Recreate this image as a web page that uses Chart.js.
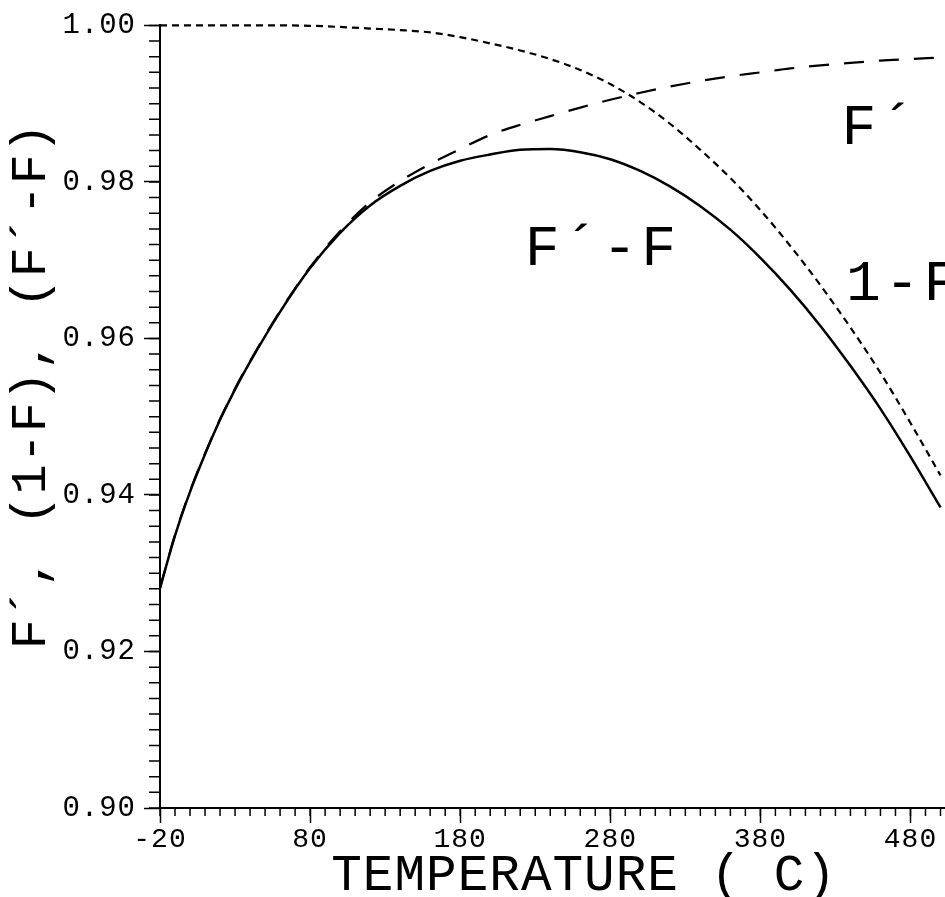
<!DOCTYPE html>
<html>
<head>
<meta charset="utf-8">
<script src="https://cdn.jsdelivr.net/npm/chart.js@4.4.1/dist/chart.umd.min.js"></script>
<style>
  html, body { margin: 0; padding: 0; background: #fff; }
  #wrap { width: 945px; height: 897px; }
</style>
</head>
<body>
<div id="wrap"><canvas id="plot" width="945" height="897"></canvas></div>
<script>
// temperature (C)
const temps = [-20, -10, 0, 10, 20, 30, 40, 60, 80, 100, 120, 140, 160, 180, 200,
  220, 240, 260, 280, 300, 320, 340, 360, 380, 400, 420, 440, 460, 480, 500];
// F'-F  (solid)
const diffF = [0.9281, 0.9348, 0.9404, 0.9452, 0.9496, 0.9535, 0.9570, 0.9634, 0.9690, 0.9735,
  0.9770, 0.9795, 0.9814, 0.9827, 0.9835, 0.9841, 0.9842, 0.9838, 0.9829, 0.9814,
  0.9794, 0.9769, 0.9739, 0.9703, 0.9662, 0.9616, 0.9565, 0.9510, 0.9449, 0.9384];
// F'  (long dash)
const fPrime = [0.9281, 0.9349, 0.9405, 0.9453, 0.9497, 0.9536, 0.9571, 0.9635, 0.9691, 0.9737,
  0.9774, 0.9801, 0.9823, 0.9842, 0.9860, 0.9873, 0.9884, 0.9895, 0.9905, 0.9914,
  0.9922, 0.9929, 0.9935, 0.9940, 0.9945, 0.9949, 0.9952, 0.9955, 0.9957, 0.9959];
// 1-F  (short dash)
const oneMinusF = [1.0000, 1.0000, 1.0000, 1.0000, 1.0000, 1.0000, 1.0000, 1.0000, 0.99995, 0.9998,
  0.9996, 0.9994, 0.9991, 0.9985, 0.9977, 0.9968, 0.9957, 0.9943, 0.9925, 0.9902,
  0.9874, 0.9841, 0.9805, 0.9764, 0.9718, 0.9668, 0.9614, 0.9556, 0.9492, 0.9425];

const xTicks = [-20, 80, 180, 280, 380, 480];
const yTicks = [0.90, 0.92, 0.94, 0.96, 0.98, 1.00];

const MONO = '"Liberation Mono", "DejaVu Sans Mono", monospace';

function points(ys) {
  return temps.map((t, i) => ({ x: t, y: ys[i] }));
}

// small ticks every 10 C and every 0.002, plus the curve names
const plotterExtras = {
  id: 'plotterExtras',
  beforeDraw(chart) {
    chart.ctx.letterSpacing = '1px';
  },
  afterDraw(chart) {
    const { ctx, scales: { x, y } } = chart;
    ctx.save();
    ctx.strokeStyle = '#000';
    ctx.lineWidth = 1.5;
    ctx.beginPath();
    for (let v = -20; v <= 500; v += 10) {
      const px = x.getPixelForValue(v);
      ctx.moveTo(px, x.top);
      ctx.lineTo(px, x.top + 8);
    }
    for (let i = 0; i <= 50; i++) {
      const py = y.getPixelForValue(0.9 + i * 0.002);
      ctx.moveTo(y.right - 11, py);
      ctx.lineTo(y.right, py);
    }
    ctx.stroke();

    ctx.fillStyle = '#000';
    ctx.font = '58px ' + MONO;
    ctx.letterSpacing = '4px';
    ctx.textAlign = 'left';
    ctx.textBaseline = 'alphabetic';
    const names = [
      { text: 'F´', t: 434, v: 0.9849 },
      { text: 'F´-F', t: 223, v: 0.9694 },
      { text: '1-F', t: 437, v: 0.9649 }
    ];
    names.forEach(n => {
      ctx.fillText(n.text, x.getPixelForValue(n.t), y.getPixelForValue(n.v));
    });
    ctx.restore();
  }
};

const ctx = document.getElementById('plot').getContext('2d');
const chart = new Chart(ctx, {
  type: 'line',
  data: {
    datasets: [
      {
        label: '1-F',
        data: points(oneMinusF),
        borderColor: '#000',
        borderWidth: 2.2,
        borderDash: [7, 5],
        pointRadius: 0,
        cubicInterpolationMode: 'monotone',
        clip: false
      },
      {
        label: "F'",
        data: points(fPrime),
        borderColor: '#000',
        borderWidth: 2.2,
        borderDash: [20, 15],
        pointRadius: 0,
        cubicInterpolationMode: 'monotone'
      },
      {
        label: "F'-F",
        data: points(diffF),
        borderColor: '#000',
        borderWidth: 2.5,
        pointRadius: 0,
        cubicInterpolationMode: 'monotone'
      }
    ]
  },
  options: {
    responsive: false,
    animation: false,
    layout: { padding: { top: 25, right: 0, left: 0, bottom: 0 } },
    plugins: {
      legend: { display: false },
      tooltip: { enabled: false }
    },
    scales: {
      x: {
        type: 'linear',
        min: -20,
        max: 503,
        afterBuildTicks: s => { s.ticks = xTicks.map(v => ({ value: v })); },
        afterFit: s => { s.height = 89; },
        grid: { drawOnChartArea: false, tickLength: 15, tickColor: '#000', tickWidth: 1.5 },
        border: { color: '#000', width: 2 },
        ticks: {
          color: '#000',
          font: { family: MONO, size: 28 },
          padding: 0,
          maxRotation: 0,
          autoSkip: false,
          callback: v => String(v)
        },
        title: {
          display: true,
          text: '  TEMPERATURE ( C)',
          color: '#000',
          font: { family: MONO, size: 51, lineHeight: 0.8 },
          padding: 0
        }
      },
      y: {
        min: 0.9,
        max: 1.0,
        afterBuildTicks: s => { s.ticks = yTicks.map(v => ({ value: v })); },
        afterFit: s => { s.width = 160; },
        grid: { drawOnChartArea: false, tickLength: 16, tickColor: '#000', tickWidth: 1.5 },
        border: { color: '#000', width: 2 },
        ticks: {
          color: '#000',
          font: { family: MONO, size: 29 },
          padding: 8,
          callback: v => v.toFixed(2)
        },
        title: {
          display: true,
          text: '  F´, (1-F), (F´-F)',
          color: '#000',
          font: { family: MONO, size: 50, lineHeight: 1 },
          padding: { top: 7, bottom: 0 }
        }
      }
    }
  },
  plugins: [plotterExtras]
});
</script>
</body>
</html>
